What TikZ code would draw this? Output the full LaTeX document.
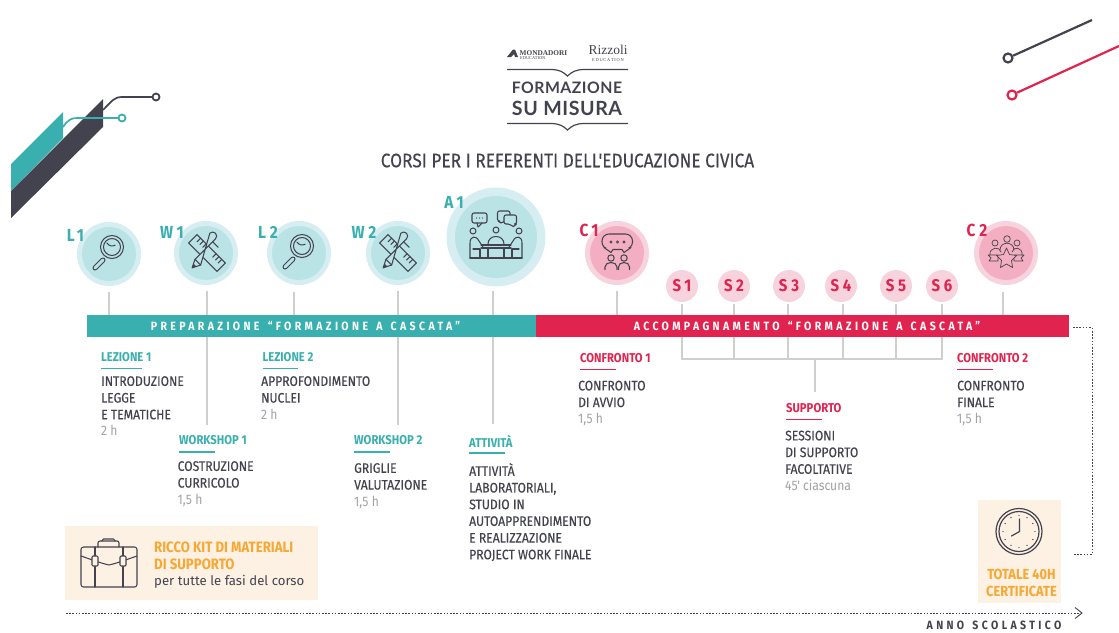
\documentclass[tikz,border=0pt]{standalone}
\usepackage{fontspec}
\usetikzlibrary{arrows.meta}
\setmainfont{Fira Sans}
\newfontfamily\din[FakeStretch=0.88,FakeBold=0.35]{Fira Sans}
\newfontfamily\dinthin[FakeStretch=0.88]{Fira Sans}
\newfontfamily\dinb[FakeStretch=0.88]{Fira Sans}
\newfontfamily\dinsp[FakeStretch=0.88,LetterSpace=28,WordSpace=1.4]{Fira Sans}
\newfontfamily\dinlab[FakeStretch=0.88,LetterSpace=22]{Fira Sans}
\newfontfamily\logof[LetterSpace=3]{Lato}
\newfontfamily\seriff{Liberation Serif}
\definecolor{teal1}{HTML}{3AAFAF}
\definecolor{red1}{HTML}{E0234F}
\definecolor{dark1}{HTML}{43434F}
\definecolor{tealO}{HTML}{D6EEF1}
\definecolor{tealI}{HTML}{BAE3E6}
\definecolor{pinkO}{HTML}{F7D4DD}
\definecolor{pinkI}{HTML}{F3AEC1}
\definecolor{cream}{HTML}{FDF1E4}
\definecolor{orange1}{HTML}{F7A833}
\definecolor{grayt}{HTML}{A2A2A6}
\definecolor{rule1}{HTML}{CFCFD2}
\tikzset{
  x=1pt,y=-1pt,
  outerT/.style={circle,fill=tealO,minimum size=64pt,inner sep=0},
  innerT/.style={circle,fill=tealI,minimum size=54pt,inner sep=0},
  outerP/.style={circle,fill=pinkO,minimum size=64pt,inner sep=0},
  innerP/.style={circle,fill=pinkI,minimum size=54pt,inner sep=0},
  sess/.style={circle,fill=pinkO,minimum size=32pt,inner sep=0,text=red1,font=\dinlab\bfseries\fontsize{17}{17}\selectfont},
  lab/.style={inner sep=0,font=\dinlab\bfseries\fontsize{17.5}{17.5}\selectfont},
  tick/.style={draw=rule1,line width=1.2pt},
  head/.style={anchor=west,inner sep=0,font=\dinb\bfseries\fontsize{12.8}{14}\selectfont},
  body/.style={anchor=north west,inner sep=0,align=left,text=dark1,font=\din\fontsize{13.8}{16.7}\selectfont},
  bar/.style={anchor=center,inner sep=0,text=white,font=\dinsp\bfseries\fontsize{12}{12}\selectfont},
  ico/.style={draw=dark1,line width=1.05pt,line join=round,line cap=round},
  dots/.style={draw=dark1,line width=0.9pt,dash pattern=on 1.6pt off 1.6pt},
}
\newcommand{\grayh}[1]{{\dinthin\color{grayt}#1}}
\newcommand{\iconmag}[2]{\begin{scope}[shift={(#1,#2)}]
  \draw[dark1,line width=5pt,line cap=round] (-14,14) -- (-6,6);
  \draw[tealI,line width=3pt,line cap=round] (-14,14) -- (-6,6);
  \draw[ico,fill=tealI] (3,-7) circle (11.5);
  \draw[ico] (3,-7) circle (8.5);
  \draw[ico] (-2,-11) arc[start angle=150,end angle=60,radius=6];
\end{scope}}
\newcommand{\iconcross}[2]{\begin{scope}[shift={(#1,#2)}]
  \begin{scope}[rotate=-45]
    \draw[ico] (-20,-6) rectangle (20,6);
    \foreach \t in {-15,-11,-7,7,11,15}{\draw[ico] (\t,-6) -- (\t,-1);}
  \end{scope}
  \begin{scope}[rotate=45]
    \draw[ico,fill=tealI] (-21,0) -- (-13,-4) -- (16,-4) arc[start angle=90,end angle=-90,radius=4] -- (-13,4) -- cycle;
    \draw[ico] (-13,-4) -- (-13,4) (12,-4) -- (12,4);
    \fill[dark1] (-21,0) -- (-17,-2) -- (-17,2) -- cycle;
  \end{scope}
\end{scope}}
\begin{document}
\begin{tikzpicture}
\useasboundingbox (0,0) rectangle (1119,632);
% decoration
\fill[teal1] (11,164) -- (63,112) -- (63,138) -- (11,191) -- cycle;
\fill[dark1] (11,191) -- (103,99) -- (103,127) -- (11,218) -- cycle;
\draw[dark1,line width=1.7pt] (103,110) .. controls (112,101) and (114,97) .. (122,97) -- (153,97);
\node[circle,draw=dark1,line width=1.8pt,minimum size=7pt,inner sep=0] (dotA) at (156,97) {};
\draw[teal1,line width=1.7pt] (63,127) .. controls (68,120) and (71,118) .. (77,118) -- (119,118);
\node[circle,draw=teal1,line width=1.8pt,minimum size=7pt,inner sep=0] (dotB) at (122,118) {};
\node[circle,draw=dark1,line width=2.2pt,minimum size=9pt,inner sep=0] (dotC) at (1008,58) {};
\coordinate (edgeC) at (1092,20);
\draw[dark1,line width=2.2pt] (dotC) -- (edgeC);
\node[circle,draw=red1,line width=2.2pt,minimum size=9pt,inner sep=0] (dotD) at (1012,95) {};
\coordinate (edgeD) at (1119,46);
\draw[red1,line width=2.2pt] (dotD) -- (edgeD);
% logo
\node[inner sep=0,anchor=west,text=dark1,font=\seriff\bfseries\fontsize{7.3}{7}\selectfont] (mond) at (519.5,53) {MONDADORI};
\node[inner sep=0,anchor=west,text=dark1,font=\seriff\fontsize{4.4}{5}\selectfont] (mondb) at (520,58.5) {EDUCATION};
\fill[dark1] (507,57) -- (513,49.5) -- (515,49.5) -- (518,57) -- (515,57) -- (514,54) -- (511,57) -- cycle;
\node[inner sep=0,anchor=center,text=dark1,font=\seriff\fontsize{13.5}{14}\selectfont] (rizz) at (608,50) {Rizzoli};
\node[inner sep=0,anchor=center,text=dark1,font=\seriff\fontsize{4.4}{5}\selectfont] (rizzb) at (608,60.5) {E\,D\,U\,C\,A\,T\,I\,O\,N};
\draw[dark1,line width=1.2pt] (507,69.5) -- (550,69.5) .. controls (560,69.5) and (563,72) .. (567.5,76) .. controls (572,72) and (575,69.5) .. (585,69.5) -- (628,69.5);
\draw[dark1,line width=1.2pt] (507,123.5) -- (550,123.5) .. controls (560,123.5) and (563,126) .. (567.5,130) .. controls (572,126) and (575,123.5) .. (585,123.5) -- (628,123.5);
\node[inner sep=0,text=dark1,font=\logof\bfseries\fontsize{15.8}{17}\selectfont] (fsm1) at (567,88) {FORMAZIONE};
\node[inner sep=0,text=dark1,font=\logof\bfseries\fontsize{19.6}{20}\selectfont] (fsm2) at (567,108) {SU MISURA};
\node[inner sep=0,text=dark1,font=\din\fontsize{19.6}{19}\selectfont] (title) at (567.5,160.5) {CORSI PER I REFERENTI DELL'EDUCAZIONE CIVICA};
% circles
\node[outerT] (L1o) at (109,254) {}; \node[innerT] (L1) at (109,254) {};
\node[outerT] (W1o) at (206,253) {}; \node[innerT] (W1) at (206,253) {};
\node[outerT] (L2o) at (299,253) {}; \node[innerT] (L2) at (299,253) {};
\node[outerT] (W2o) at (398,253) {}; \node[innerT] (W2) at (398,253) {};
\node[outerT,minimum size=99pt] (A1o) at (496,237) {}; \node[innerT,minimum size=82pt] (A1) at (496,237) {};
\node[outerP] (C1o) at (617,253) {}; \node[innerP] (C1) at (617,253) {};
\node[outerP] (C2o) at (1006,253) {}; \node[innerP] (C2) at (1006,253) {};
\node[sess] (S1) at (682,286) {S1};
\node[sess] (S2) at (734,286) {S2};
\node[sess] (S3) at (789,286) {S3};
\node[sess] (S4) at (841,286) {S4};
\node[sess] (S5) at (896,286) {S5};
\node[sess] (S6) at (942,286) {S6};
% connectors
\draw[tick] (109,292) -- (109,315);
\draw[tick] (207,291) -- (207,315);
\draw[tick] (294,292) -- (294,315);
\draw[tick] (398,291) -- (398,315);
\draw[tick] (493,291) -- (493,315);
\draw[tick] (617,291) -- (617,315);
\draw[tick] (1003,292) -- (1003,315);
\foreach \n/\x in {S1/682,S2/734,S3/788,S4/843,S5/896,S6/942}{
  \draw[tick] (\x,304) -- (\x,359);
}
\draw[tick] (681.4,359) -- (942.6,359);
\coordinate (supTop) at (815,359);
\coordinate (supEnd) at (815,392);
\draw[tick] (supTop) -- (supEnd);
\draw[tick] (207,337) -- (207,425);
\draw[tick] (398,337) -- (398,425);
\draw[tick] (493,337) -- (493,424);
% bar
\node[inner sep=0,minimum width=533pt,minimum height=21.5pt,fill=red1] (barR) at (802.5,326) {};
\node[inner sep=0,minimum width=449pt,minimum height=21.5pt,fill=teal1] (barT) at (311.5,326) {};
\node[bar] (barTxtT) at (305.5,326) {PREPARAZIONE “FORMAZIONE A CASCATA”};
\node[bar] (barTxtR) at (807,326) {ACCOMPAGNAMENTO “FORMAZIONE A CASCATA”};
% labels
\node[lab,text=teal1] (lL1) at (75.5,235) {L1};
\node[lab,text=teal1] (lW1) at (172,232) {W1};
\node[lab,text=teal1] (lL2) at (268,232) {L2};
\node[lab,text=teal1] (lW2) at (364,232) {W2};
\node[lab,text=teal1] (lA1) at (454,202) {A1};
\node[lab,text=red1] (lC1) at (589,230) {C1};
\node[lab,text=red1] (lC2) at (977,230) {C2};
% icons
\iconmag{109}{254}
\iconcross{207}{253}
\iconmag{299}{253}
\iconcross{398}{253}
% A1 icon
\begin{scope}
  \draw[ico,rounded corners=2pt] (472,213) rectangle (487,223);
  \draw[ico] (477,223) -- (478,227) -- (482,223);
  \foreach \x in {476.5,479.5,482.5}{\fill[dark1] (\x,218) circle (0.6);}
  \draw[ico,rounded corners=2pt] (497.5,211) -- (510,211) -- (510,221) -- (503,221) -- (501,224) -- (500,221) -- (497.5,221) -- cycle;
  \draw[ico,fill=tealI,rounded corners=2pt] (504,215) -- (516.5,215) -- (516.5,224) -- (514.5,224) -- (514,227.5) -- (510,224) -- (504,224) -- cycle;
  \draw[ico] (473,231) circle (3);
  \draw[ico] (496,230) circle (3);
  \draw[ico] (519,231) circle (3);
  \draw[ico,line width=1.4pt] (470,258) -- (522,258);
  \draw[ico] (470,258) -- (470,243) .. controls (470,236) and (476,235) .. (479,241) -- (483,247);
  \draw[ico] (522,258) -- (522,243) .. controls (522,236) and (516,235) .. (513,241) -- (509,247);
  \draw[ico] (473,249) -- (480,249) -- (480,258);
  \draw[ico] (519,249) -- (512,249) -- (512,258);
  \draw[ico] (488,244) .. controls (488,234) and (504,234) .. (504,244);
  \draw[ico] (481,245) -- (511,245) (481,248) -- (511,248);
  \draw[ico] (488,248) -- (488,258) (504,248) -- (504,258);
\end{scope}
% C1 icon
\begin{scope}
  \draw[ico,rounded corners=7pt] (602,234) -- (632.5,234) -- (632.5,249) -- (602,249) -- cycle;
  \fill[pinkI] (606,247.5) rectangle (629,250.5);
  \draw[ico] (604,247.5) -- (611,252.5) -- (613,249.5) -- (622,249.5) -- (624,252.5) -- (631,247.5);
  \foreach \x in {611,617.5,624}{\draw[dark1,line width=.8pt] (\x,242) circle (1.1);}
  \draw[ico] (611,258) circle (3.2);
  \draw[ico] (624,258) circle (3.2);
  \draw[ico] (605,269.5) -- (605,267) .. controls (605,261) and (617,261) .. (617,267) -- (617,269.5);
  \draw[ico] (618.5,269.5) -- (618.5,267) .. controls (618.5,261) and (629.5,261) .. (629.5,267) -- (629.5,269.5);
\end{scope}
% C2 icon
\begin{scope}
  \draw[ico,line width=.7pt] (995,243) circle (3);
  \draw[ico,line width=.7pt] (1007,239) circle (3.3);
  \draw[ico,line width=.7pt] (1017,243) circle (3);
  \draw[ico,line width=.7pt] (990,255) .. controls (989,247) and (1000,246) .. (1001,252);
  \draw[ico,line width=.7pt] (1000,250) .. controls (1000,241) and (1014,241) .. (1014,250);
  \draw[ico,line width=.7pt] (1012,252) .. controls (1013,246) and (1023,247) .. (1022,255);
  \draw[ico,line width=.7pt] (988,255) -- (998,255) -- (998,261) -- (989,261) -- (991,258) -- cycle;
  \draw[ico,line width=.7pt] (1024,255) -- (1014,255) -- (1014,261) -- (1023,261) -- (1021,258) -- cycle;
  \draw[ico,line width=.7pt,fill=pinkI] (1006.5,248) -- (1009.5,254.5) -- (1016.5,255.5) -- (1011.5,260.5) -- (1012.5,267.5) -- (1006.5,264) -- (1000.5,267.5) -- (1001.5,260.5) -- (996.5,255.5) -- (1003.5,254.5) -- cycle;
\end{scope}
% text blocks
\node[head,text=teal1] (h1) at (101,357) {LEZIONE 1};
\coordinate (u1a) at (101,368.5); \coordinate (u1b) at (142,368.5);
\draw[teal1,line width=1.1pt] (u1a) -- (u1b);
\node[body] (b1) at (101,376) {INTRODUZIONE\\LEGGE\\E TEMATICHE\\\grayh{2 h}};
\node[head,text=teal1] (h2) at (262.5,357) {LEZIONE 2};
\coordinate (u2a) at (262.5,368.5); \coordinate (u2b) at (298,368.5);
\draw[teal1,line width=1.1pt] (u2a) -- (u2b);
\node[body] (b2) at (261,376) {APPROFONDIMENTO\\NUCLEI\\\grayh{2 h}};
\node[head,text=teal1] (h3) at (179,440.5) {WORKSHOP 1};
\coordinate (u3a) at (179,452); \coordinate (u3b) at (215,452);
\draw[teal1,line width=1.1pt] (u3a) -- (u3b);
\node[body] (b3) at (177.5,461) {COSTRUZIONE\\CURRICOLO\\\grayh{1,5 h}};
\node[head,text=teal1] (h4) at (354,440.5) {WORKSHOP 2};
\coordinate (u4a) at (354,452); \coordinate (u4b) at (390,452);
\draw[teal1,line width=1.1pt] (u4a) -- (u4b);
\node[body] (b4) at (354,463) {GRIGLIE\\VALUTAZIONE\\\grayh{1,5 h}};
\node[head,text=teal1] (h5) at (469,441.5) {ATTIVITÀ};
\coordinate (u5a) at (469,453); \coordinate (u5b) at (505,453);
\draw[teal1,line width=1.1pt] (u5a) -- (u5b);
\node[body] (b5) at (469,463) {ATTIVITÀ\\LABORATORIALI,\\STUDIO IN\\AUTOAPPRENDIMENTO\\E REALIZZAZIONE\\PROJECT WORK FINALE};
\node[head,text=red1] (h6) at (580,358.5) {CONFRONTO 1};
\coordinate (u6a) at (580,369.5); \coordinate (u6b) at (616,369.5);
\draw[red1,line width=1.1pt] (u6a) -- (u6b);
\node[body] (b6) at (578,380.5) {CONFRONTO\\DI AVVIO\\\grayh{1,5 h}};
\node[head,text=red1] (h7) at (786,408) {SUPPORTO};
\coordinate (u7a) at (786,419.5); \coordinate (u7b) at (822,419.5);
\draw[red1,line width=1.1pt] (u7a) -- (u7b);
\node[body] (b7) at (785,430.5) {SESSIONI\\DI SUPPORTO\\FACOLTATIVE\\\grayh{45' ciascuna}};
\node[head,text=red1] (h8) at (957,358.5) {CONFRONTO 2};
\coordinate (u8a) at (957,369.5); \coordinate (u8b) at (993,369.5);
\draw[red1,line width=1.1pt] (u8a) -- (u8b);
\node[body] (b8) at (957,380.5) {CONFRONTO\\FINALE\\\grayh{1,5 h}};
% kit box
\fill[cream] (65,526) rectangle (318,600);
\draw[ico,rounded corners=2.5pt] (81,547) rectangle (137,587);
\draw[ico,rounded corners=2pt] (98,547) -- (98,541) -- (119,541) -- (119,547);
\draw[ico,rounded corners=1.5pt] (102,541) -- (102,539) -- (115,539) -- (115,541);
\draw[ico] (81,556) .. controls (90,559) and (100,563) .. (109,565) .. controls (118,563) and (128,559) .. (137,556);
\draw[ico] (95,547) -- (95,587) (123,547) -- (123,587);
\draw[ico,fill=cream,rounded corners=1pt] (92,556) rectangle (98,566);
\draw[ico,fill=cream,rounded corners=1pt] (120,556) rectangle (126,566);
\node[anchor=north west,inner sep=0,align=left,text=orange1,font=\dinb\bfseries\fontsize{15}{17.3}\selectfont] (kit) at (154,541.5) {RICCO KIT DI MATERIALI\\DI SUPPORTO};
\node[anchor=west,inner sep=0,text=dark1,font=\fontsize{13.2}{14}\selectfont] (kit2) at (154,582) {per tutte le fasi del corso};
% totale box
\fill[cream] (978,500) rectangle (1061,603);
\draw[dark1,line width=1.2pt] (1019,531.5) circle (23);
\draw[dark1,line width=1.2pt] (1019,531.5) circle (20);
\foreach \a in {0,30,...,330}{\fill[dark1] (1019,531.5) ++(\a:16) circle (0.7);}
\draw[dark1,line width=1.2pt,line cap=round] (1019.5,519) -- (1019.5,531.5) -- (1011.5,536);
\node[inner sep=0,align=center,text=orange1,font=\dinb\bfseries\fontsize{14.6}{17}\selectfont] (tot) at (1021.5,582.5) {TOTALE 40H\\CERTIFICATE};
% dotted link
\coordinate (dA) at (1073,327.5);
\coordinate (dB) at (1073,554.5);
\coordinate (dC) at (1092,327.5);
\coordinate (dD) at (1092,554.5);
\draw[dots] (dA) -- (dC) -- (dD) -- (dB);
% time arrow
\coordinate (tA) at (66,613);
\coordinate (tB) at (1080,613);
\draw[dots] (tA) -- (tB);
\draw[dark1,line width=0.9pt] (1075,607.5) -- (1082,613) -- (1075,618.5);
\node[inner sep=0,text=dark1,font=\dinsp\bfseries\fontsize{12}{12}\selectfont] (anno) at (994,625.5) {ANNO SCOLASTICO};
\end{tikzpicture}
\end{document}
